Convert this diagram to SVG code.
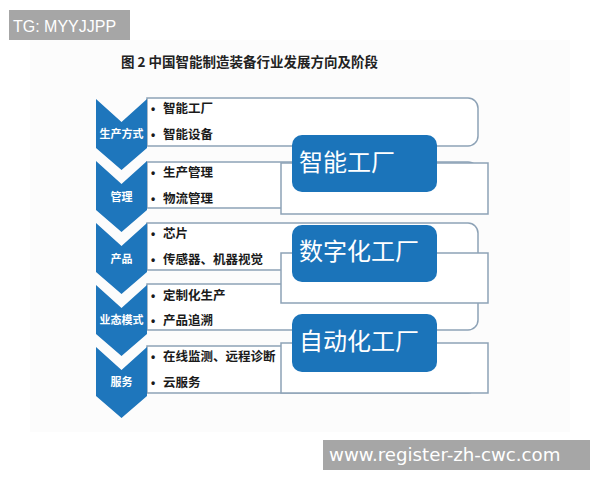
<svg xmlns="http://www.w3.org/2000/svg" width="600" height="480" viewBox="0 0 600 480">
<defs>
<style>
.box{fill:#fff;stroke:#8da2b6;stroke-width:1.5}
.chev{fill:#1e76bc}
.tab{fill:#1b74ba}
.cl{font-family:"Noto Sans CJK SC",sans-serif;font-weight:bold;font-size:11px;fill:#fff;text-anchor:middle}
.it{font-family:"Noto Sans CJK SC",sans-serif;font-weight:bold;font-size:12.5px;fill:#1a1a1a}
.bu{font-family:"Liberation Sans",sans-serif;font-weight:bold;font-size:12px;fill:#1a1a1a}
.tt{font-family:"Noto Sans CJK SC",sans-serif;font-size:24px;fill:#fff}
</style>
<path id="chv" d="M0,0 L25.5,23 L51,0 L51,49 L25.5,71 L0,49 Z"/>
</defs>
<rect x="0" y="0" width="600" height="480" fill="#fff"/>
<rect x="30" y="40" width="540" height="392" fill="#fcfcfc"/>
<g id="watermark-top"><rect x="9" y="10" width="121" height="30" fill="#a6a6a6"/><text x="13" y="32" font-family="'Liberation Sans',Arial,sans-serif" font-size="16" fill="#fff">TG: MYYJJPP</text></g>
<text x="121" y="67" font-family="'Noto Sans CJK SC',serif" font-weight="bold" font-size="13.5" fill="#222">图 2 中国智能制造装备行业发展方向及阶段</text>

<g id="list-boxes">
<path class="box" d="M147,98 H468 A10,10 0 0 1 478,108 V136 A10,10 0 0 1 468,146 H147 Z"/>
<path class="box" d="M147,162 H468 A10,10 0 0 1 478,172 V198 A10,10 0 0 1 468,208 H147 Z"/>
<path class="box" d="M147,223 H468 A10,10 0 0 1 478,233 V260 A10,10 0 0 1 468,270 H147 Z"/>
<path class="box" d="M147,284 H468 A10,10 0 0 1 478,294 V320 A10,10 0 0 1 468,330 H147 Z"/>
<path class="box" d="M147,346 H468 A10,10 0 0 1 478,356 V383 A10,10 0 0 1 468,393 H147 Z"/>
</g>

<g id="chevrons">
<g id="c1"><use href="#chv" x="96" y="99" class="chev"/><text class="cl" x="121.5" y="138">生产方式</text></g>
<g id="c2"><use href="#chv" x="96" y="161" class="chev"/><text class="cl" x="121.5" y="201">管理</text></g>
<g id="c3"><use href="#chv" x="96" y="223" class="chev"/><text class="cl" x="121.5" y="263">产品</text></g>
<g id="c4"><use href="#chv" x="96" y="285" class="chev"/><text class="cl" x="121.5" y="324">业态模式</text></g>
<g id="c5"><use href="#chv" x="96" y="347" class="chev"/><text class="cl" x="121.5" y="386">服务</text></g>
</g>

<g id="items">
<text class="bu" x="151" y="113">•</text><text class="it" x="163" y="113">智能工厂</text>
<text class="bu" x="151" y="139">•</text><text class="it" x="163" y="139">智能设备</text>
<text class="bu" x="151" y="177">•</text><text class="it" x="163" y="177">生产管理</text>
<text class="bu" x="151" y="203">•</text><text class="it" x="163" y="203">物流管理</text>
<text class="bu" x="151" y="238">•</text><text class="it" x="163" y="238">芯片</text>
<text class="bu" x="151" y="264">•</text><text class="it" x="163" y="264">传感器、机器视觉</text>
<text class="bu" x="151" y="300">•</text><text class="it" x="163" y="300">定制化生产</text>
<text class="bu" x="151" y="325">•</text><text class="it" x="163" y="325">产品追溯</text>
<text class="bu" x="151" y="361">•</text><text class="it" x="163" y="361">在线监测、远程诊断</text>
<text class="bu" x="151" y="387">•</text><text class="it" x="163" y="387">云服务</text>
</g>

<g id="factory1"><rect class="box" x="281" y="163" width="207" height="51"/><rect class="tab" x="292" y="135" width="145" height="57" rx="10"/><text class="tt" x="299" y="171">智能工厂</text></g>
<g id="factory2"><rect class="box" x="281" y="253" width="207" height="50"/><rect class="tab" x="292" y="225" width="145" height="57" rx="10"/><text class="tt" x="299" y="260">数字化工厂</text></g>
<g id="factory3"><rect class="box" x="281" y="343" width="207" height="50"/><rect class="tab" x="292" y="314" width="145" height="58" rx="10"/><text class="tt" x="299" y="350">自动化工厂</text></g>

<g id="watermark-bottom"><rect x="323" y="440" width="267" height="30" fill="#a6a6a6"/><text x="329" y="461" font-family="'DejaVu Sans',sans-serif" font-size="18.2" fill="#fff">www.register-zh-cwc.com</text></g>
</svg>
